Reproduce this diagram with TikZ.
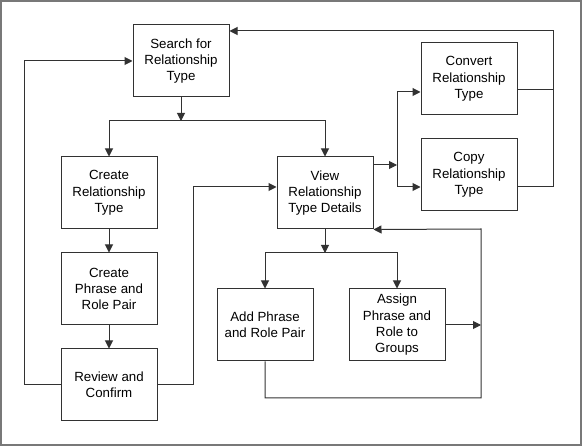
\documentclass[tikz,border=0pt]{standalone}
\usepackage{fontspec}
\setmainfont{Liberation Sans}
\usetikzlibrary{arrows.meta,calc}
\definecolor{framegray}{RGB}{120,120,120}
\definecolor{linegray}{RGB}{50,50,50}
\begin{document}
\begin{tikzpicture}[x=1pt,y=-1pt,
  box/.style={draw=linegray,line width=1pt,minimum width=96pt,minimum height=72pt,
    inner sep=0pt,align=center,font=\fontsize{13.3pt}{16.3pt}\selectfont},
  conn/.style={draw=linegray,line width=1pt},
  arr/.style={conn,-{Triangle[length=8pt,width=8pt]}}]
\useasboundingbox (0,0) rectangle (582,446);
\draw[framegray,line width=2pt] (1,1) rectangle (581,445);

\node[box] (search) at (181,61) {Search for\\Relationship\\Type};
\node[box] (convert) at (469,79) {Convert\\Relationship\\Type};
\node[box] (copy) at (469,175) {Copy\\Relationship\\Type};
\node[box] (createrel) at (109,193) {Create\\Relationship\\Type};
\node[box] (view) at (325,193) {View\\Relationship\\Type Details};
\node[box] (createphr) at (109,289) {Create\\Phrase and\\Role Pair};
\node[box] (review) at (109,385) {Review and\\Confirm};
\node[box] (add) at (265,325) {Add Phrase\\and Role Pair};
\node[box] (assign) at (397,325) {Assign\\Phrase and\\Role to\\Groups};

\coordinate (j1) at (181,121);
\coordinate (vj) at (397,165);
\coordinate (rtop) at (553,31);
\coordinate (rconv) at (553,90);
\coordinate (j2) at (325,253);
\coordinate (rj) at (481,325);
\coordinate (rb) at (481,398);
\coordinate (rt) at (481,229);

\draw[arr] (search) -- (j1);
\draw[arr] (j1) -| (createrel.north);
\draw[arr] (j1) -| (view.north);
\draw[arr] (createrel) -- (createphr);
\draw[arr] (createphr) -- (review);
\draw[arr] (review.west) -- ++(-36,0) |- (search.west);
\draw[arr] (review.east) -- ++(36,0) |- ($(view.west)+(0,-6)$);
\draw[arr] ($(view.east)+(0,-28)$) -- (vj);
\draw[arr] (vj) |- ($(convert.west)+(0,13)$);
\draw[arr] (vj) |- ($(copy.west)+(0,12)$);
\draw[conn] ($(convert.east)+(0,11)$) -- (rconv);
\draw[arr] ($(copy.east)+(0,12)$) -| (rtop) -- ($(search.east)+(0,-30)$);
\draw[arr] (view) -- (j2);
\draw[arr] (j2) -| (add.north);
\draw[arr] (j2) -| (assign.north);
\draw[arr] (assign) -- (rj);
\draw[arr] (add.south) |- (rb) -- (rt) -- (view.south east);
\end{tikzpicture}
\end{document}
